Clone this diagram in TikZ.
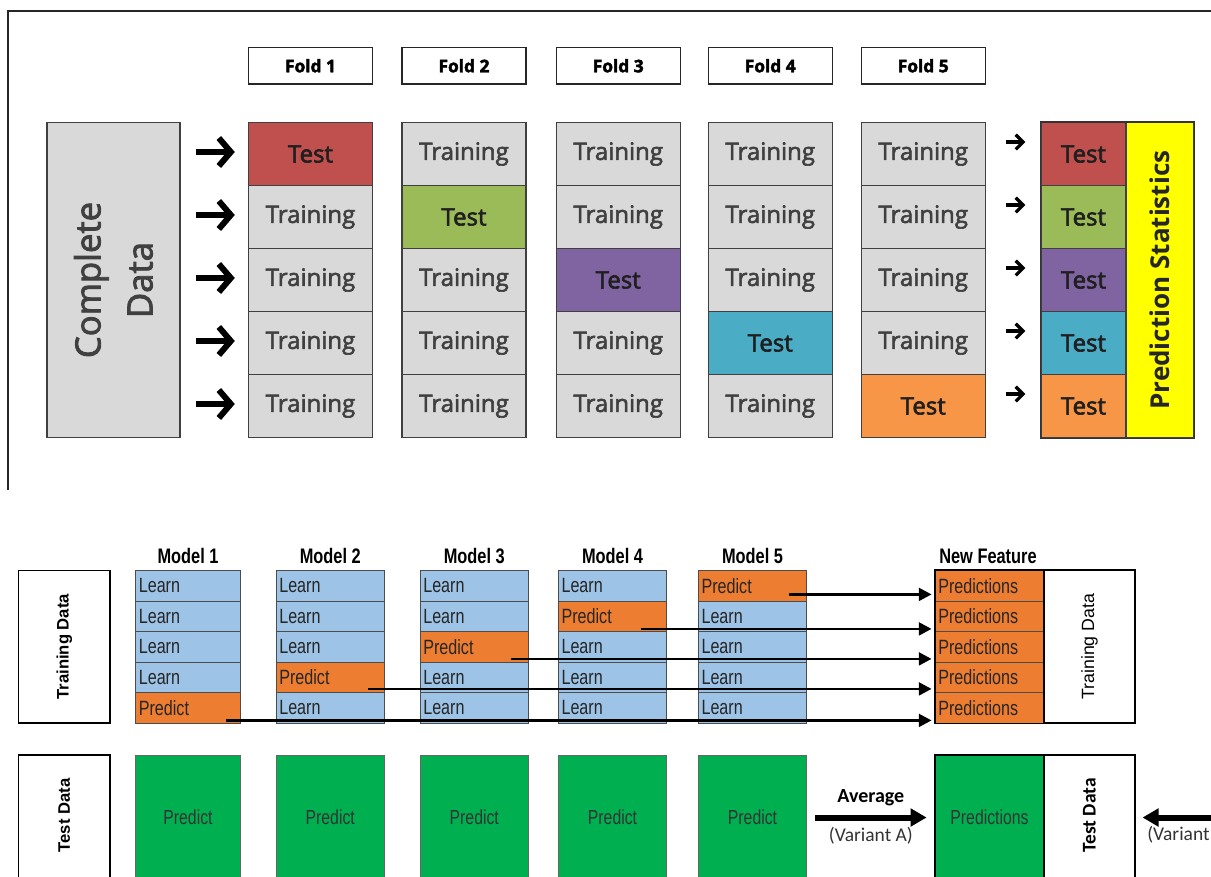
\documentclass[tikz,border=0pt]{standalone}
\usepackage{fontspec}
\setmainfont{Open Sans}
\newfontfamily\cellfont{Open Sans}[FakeBold=2.5]
\newfontfamily\foldfont{Open Sans}[FakeBold=2.5]
\newfontfamily\narrowfont{Liberation Sans}[FakeStretch=0.78]
\newfontfamily\headfont{Liberation Sans}[FakeStretch=0.78]
\newfontfamily\arialfont{Liberation Sans}
\newfontfamily\calfont{Carlito}
\usetikzlibrary{arrows.meta,calc}

\definecolor{cellgray}{HTML}{D9D9D9}
\definecolor{textgray}{HTML}{404040}
\definecolor{tc1}{HTML}{C0504D}
\definecolor{tc2}{HTML}{9BBB59}
\definecolor{tc3}{HTML}{8064A2}
\definecolor{tc4}{HTML}{4BACC6}
\definecolor{tc5}{HTML}{F79646}
\definecolor{statyellow}{HTML}{FFFF00}
\definecolor{lblue}{HTML}{9DC3E6}
\definecolor{porange}{HTML}{ED7D31}
\definecolor{pgreen}{HTML}{00B050}

\begin{document}
\begin{tikzpicture}[x=0.75pt,y=-0.75pt,
  frame/.style={line width=1.5pt, draw=black!85},
  foldbox/.style={draw=black!85, line width=1.1pt, fill=white, minimum width=93pt,
    minimum height=27.4pt, inner sep=0pt, font=\foldfont\bfseries\fontsize{13}{13}\selectfont},
  topcell/.style={draw=black!75, line width=1.1pt, minimum width=93pt, minimum height=47.25pt,
    inner sep=0pt, font=\cellfont\fontsize{18}{18}\selectfont},
  traincell/.style={topcell, fill=cellgray, text=textgray},
  testcell/.style={topcell, text=black!88},
  rescell/.style={topcell, minimum width=63.75pt, text=black!88},
  cdbox/.style={draw=black!75, line width=1.1pt, fill=cellgray, minimum width=99.75pt,
    minimum height=236.25pt, inner sep=0pt},
  statbox/.style={draw=black!75, line width=1.1pt, fill=statyellow, minimum width=51pt,
    minimum height=236.25pt, inner sep=0pt},
  bigchev/.style={line width=4.5pt, black, -{Straight Barb[length=9pt,width=21pt]}},
  smallchev/.style={line width=2.4pt, black, -{Straight Barb[length=5.5pt,width=11pt]}},
  mhead/.style={font=\headfont\bfseries\fontsize{15.75}{15.75}\selectfont, inner sep=0pt},
  lcell/.style={draw=black!70, line width=0.6pt, minimum height=22.875pt, inner xsep=2.5pt,
    inner ysep=0pt, align=left, font=\narrowfont\fontsize{15.5}{15.5}\selectfont, text=black!85},
  gbox/.style={draw=black!60, line width=0.6pt, fill=pgreen, minimum height=93.75pt, inner sep=0pt,
    font=\narrowfont\fontsize{15.2}{15.2}\selectfont, text=black!80},
  databox/.style={draw=black, line width=1.4pt, fill=white, minimum width=68.6pt, inner sep=0pt},
  parr/.style={line width=2pt, black, -{Triangle[length=9.5pt,width=9.5pt]}},
  bigarr/.style={line width=4.5pt, black, -{Triangle[length=12pt,width=13pt]}}
]
\useasboundingbox (0,0) rectangle (1211,876);
\clip (0,0) rectangle (1211,876);
\fill[white] (0,0) rectangle (1211,876);

% ---------- upper part: five folds ----------
\draw[frame] (8,490) -- (8,11) -- (1211,11);

\node[cdbox] (cd) at (113.4,280) {};
\node[rotate=90, align=center, text=textgray, font=\cellfont\fontsize{26}{39}\selectfont] (cdtext) at (cd) {Complete\\Data};

\foreach \c/\x in {1/310.5,2/464,3/618.25,4/770.25,5/923.25}{
  \node[foldbox] (h\c) at (\x,65.75) {Fold \c};
  \foreach \r/\y in {1/154,2/217,3/280,4/343,5/406}{
    \ifnum\c=\r
      \node[testcell, fill=tc\c] (f\c r\r) at (\x,\y) {Test};
    \else
      \node[traincell] (f\c r\r) at (\x,\y) {Training};
    \fi
  }
}

% arrows into the folds
\foreach \r in {1,...,5}{
  \draw[bigchev] ($(cd.east |- f1r\r)+(15,-2)$) -- ($(f1r\r.west)+(-13,-2)$);
}

% collected test results
\foreach \r/\y in {1/154,2/217,3/280,4/343,5/406}{
  \node[rescell, fill=tc\r] (s\r) at (1083.5,\y) {Test};
  \draw[smallchev] ($(f5r\r.east)+(20,-12)$) -- ($(s\r.west)+(-15,-12)$);
}
\node[statbox] (ps) at (1160,280) {};
\node[rotate=90, text=black!85, font=\bfseries\fontsize{19.5}{19.5}\selectfont] (pstext) at (ps) {Prediction Statistics};
\draw[line width=1.1pt, black!80] (s1.north west) rectangle (ps.south east);

% ---------- lower part: stacking ----------
\node[databox, minimum height=114.4pt] (trl) at (64.25,646.75) {};
\node[rotate=90, font=\arialfont\bfseries\fontsize{12.5}{12.5}\selectfont] (trltext) at (trl) {Training Data};
\node[databox, minimum height=93.75pt] (tel) at (64.25,817.5) {};
\node[rotate=90, font=\arialfont\bfseries\fontsize{12.5}{12.5}\selectfont] (teltext) at ($(tel)+(0,-2)$) {Test Data};

\foreach \m/\x/\tw in {1/188/73.75pt,2/330.25/76.4pt,3/474.25/76.4pt,4/612.5/76.4pt,5/752.5/76.4pt}{
  \node[mhead] (mh\m) at (\x,556) {Model \m};
  \pgfmathtruncatemacro\pr{6-\m}
  \foreach \r/\y in {1/585.75,2/616.25,3/646.75,4/677.25,5/707.75}{
    \ifnum\r=\pr
      \node[lcell, fill=porange, text width=\tw] (m\m r\r) at (\x,\y) {Predict};
    \else
      \node[lcell, fill=lblue, text width=\tw] (m\m r\r) at (\x,\y) {Learn};
    \fi
  }
  \node[gbox, minimum width=\tw+5pt] (t\m) at (\x,817.5) {Predict};
}

% new feature block
\node[mhead] (nfh) at (988,556) {New Feature};
\foreach \r/\y in {1/585.75,2/616.25,3/646.75,4/677.25,5/707.75}{
  \node[lcell, fill=porange, text width=76.75pt] (nf\r) at (989.5,\y) {Predictions};
}
\node[draw=black, line width=0.8pt, fill=white, minimum width=68.25pt, minimum height=114.4pt, inner sep=0pt] (trd) at (1089.5,646.75) {};
\node[rotate=90, font=\arialfont\fontsize{13.3}{13.3}\selectfont] (trdtext) at (trd) {Training Data};
\draw[line width=1.4pt, black] (nf1.north west) rectangle (trd.south east);

% predictions on the test data
\node[gbox, minimum width=81.75pt, draw=black!70] (pg) at (989.5,817.5) {Predictions};
\node[draw=black, line width=0.8pt, fill=white, minimum width=68.25pt, minimum height=93.75pt, inner sep=0pt] (tdr) at (1089.5,817.5) {};
\node[rotate=90, font=\calfont\bfseries\fontsize{14.6}{14.6}\selectfont] (tdrtext) at ($(tdr)+(0,-2)$) {Test Data};
\draw[line width=1.4pt, black] (pg.north west) rectangle (tdr.south east);

% out-of-fold predictions into the new feature
\draw[parr] ($(m5r1.south east)+(-18,-7)$) -- ($(m5r1.south east -| nf1.west)+(-3,-7)$);
\draw[parr] ($(m4r2.south east)+(-26,-3)$) -- ($(m4r2.south east -| nf2.west)+(-3,-3)$);
\draw[parr] ($(m3r3.south east)+(-17.5,-3.5)$) -- ($(m3r3.south east -| nf3.west)+(-3,-3.5)$);
\draw[parr] ($(m2r4.south east)+(-17,-4)$) -- ($(m2r4.south east -| nf4.west)+(-3,-4)$);
\draw[parr] ($(m1r5.south east)+(-14.5,-3)$) -- ($(m1r5.south east -| nf5.west)+(-3,-3)$);

% averaging the test predictions
\draw[bigarr, shorten <=5.6pt, shorten >=6pt] (t5.east) -- (pg.west)
  node[midway, yshift=15pt, font=\calfont\bfseries\fontsize{15}{15}\selectfont] (avg) {Average}
  node[midway, yshift=-13.5pt, font=\calfont\fontsize{14.6}{14.6}\selectfont, text=black!80] (va) {(Variant A)};

\coordinate (vbin) at (1216,817.5);
\draw[bigarr, shorten >=5.25pt] (vbin) -- (tdr.east);
\node[anchor=west, inner sep=0pt, font=\calfont\fontsize{14.6}{14.6}\selectfont, text=black!80] (vb) at (1147,835) {(Variant};
\end{tikzpicture}
\end{document}
